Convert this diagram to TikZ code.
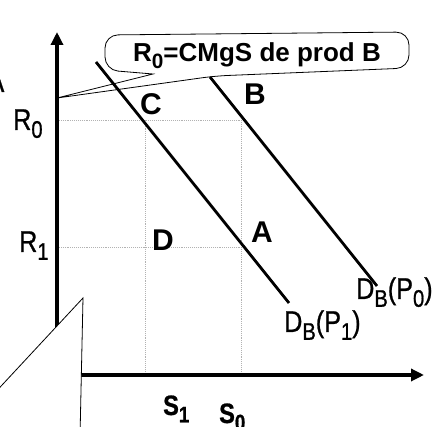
\documentclass[tikz,border=0pt]{standalone}
\usepackage{fontspec}
\usepackage{graphicx}
\setmainfont{Liberation Sans}
\newfontfamily\narrowfont[FakeStretch=0.84,FakeBold=0.8]{Liberation Sans}
\newcommand\dsub[1]{\raisebox{-0.26em}{\scalebox{0.8}{#1}}}
\usetikzlibrary{arrows.meta}

\begin{document}
\begin{tikzpicture}[x=1pt,y=-1pt,
        axis/.style={line width=3.6pt, -{Triangle[length=13pt,width=12pt]}},
        demand/.style={line width=2.8pt},
        guide/.style={gray!60, densely dotted, line width=0.9pt},
        noteshape/.style={draw, fill=white, line width=0.8pt},
        pointlabel/.style={inner sep=0pt, font=\fontsize{30}{32}\selectfont\bfseries},
        pricelabel/.style={inner sep=0pt, anchor=base west, font=\fontsize{30}{32}\narrowfont},
        qtylabel/.style={inner sep=0pt, anchor=base west, font=\fontsize{28}{30}\narrowfont\bfseries}
    ]
    \useasboundingbox (0,0) rectangle (432,427);

    % callout
    \draw[noteshape] (153,74) [rounded corners=13pt] -- (105,70) -- (105,35) -- (409,32)
        -- (409,68) -- (215,76) [sharp corners] -- (57,98) -- cycle;
    \node[inner sep=0pt, anchor=base, font=\fontsize{26}{28}\selectfont\bfseries] (cmgs)
        at (257,62) {R\dsub{0}=CMgS de prod B};

    % points
    \coordinate (O) at (57,375);
    \coordinate (ytop) at (57,32);
    \coordinate (xend) at (424,375);
    \coordinate (r0) at (57,120);
    \coordinate (r1) at (57,247);
    \coordinate (s1) at (145,375);
    \coordinate (s0) at (241,375);
    \coordinate (C) at (145,120);
    \coordinate (B) at (241,120);
    \coordinate (D) at (145,247);
    \coordinate (A) at (241,247);

    % guides
    \draw[guide] (r0) -- (B);
    \draw[guide] (r1) -- (A);
    \draw[guide] (C) -- (s1);
    \draw[guide] (B) -- (s0);

    % axes
    \draw[axis] (O) -- (ytop);
    \draw[axis] (O) -- (xend);

    % demand curves
    \coordinate (p1top) at (96,62);
    \coordinate (p1end) at (289,303);
    \coordinate (p0top) at (210,77);
    \coordinate (p0end) at (377,286);
    \draw[demand] (p1top) -- (p1end);
    \draw[demand] (p0top) -- (p0end);

    % labels
    \node[pointlabel] (lc) at (151,104) {C};
    \node[pointlabel] (lb) at (255,94) {B};
    \node[pointlabel] (ld) at (163,240) {D};
    \node[pointlabel] (la) at (262,232) {A};
    \node[pricelabel] (lr0) at (13,130) {R\dsub{0}};
    \node[pricelabel] (lr1) at (19,252) {R\dsub{1}};
    \node[pricelabel] (ldp1) at (284,332) {D\dsub{B}(P\dsub{1})};
    \node[pricelabel] (ldp0) at (356,299) {D\dsub{B}(P\dsub{0})};
    \node[qtylabel] (ls1) at (163,415) {S\dsub{1}};
    \node[qtylabel] (ls0) at (219,423) {S\dsub{0}};
    \node[pricelabel, anchor=base east] (cut) at (4.5,92) {A};

    % second callout, cut off
    \draw[noteshape] (-10,398) -- (83,298) -- (80,437);
\end{tikzpicture}
\end{document}
